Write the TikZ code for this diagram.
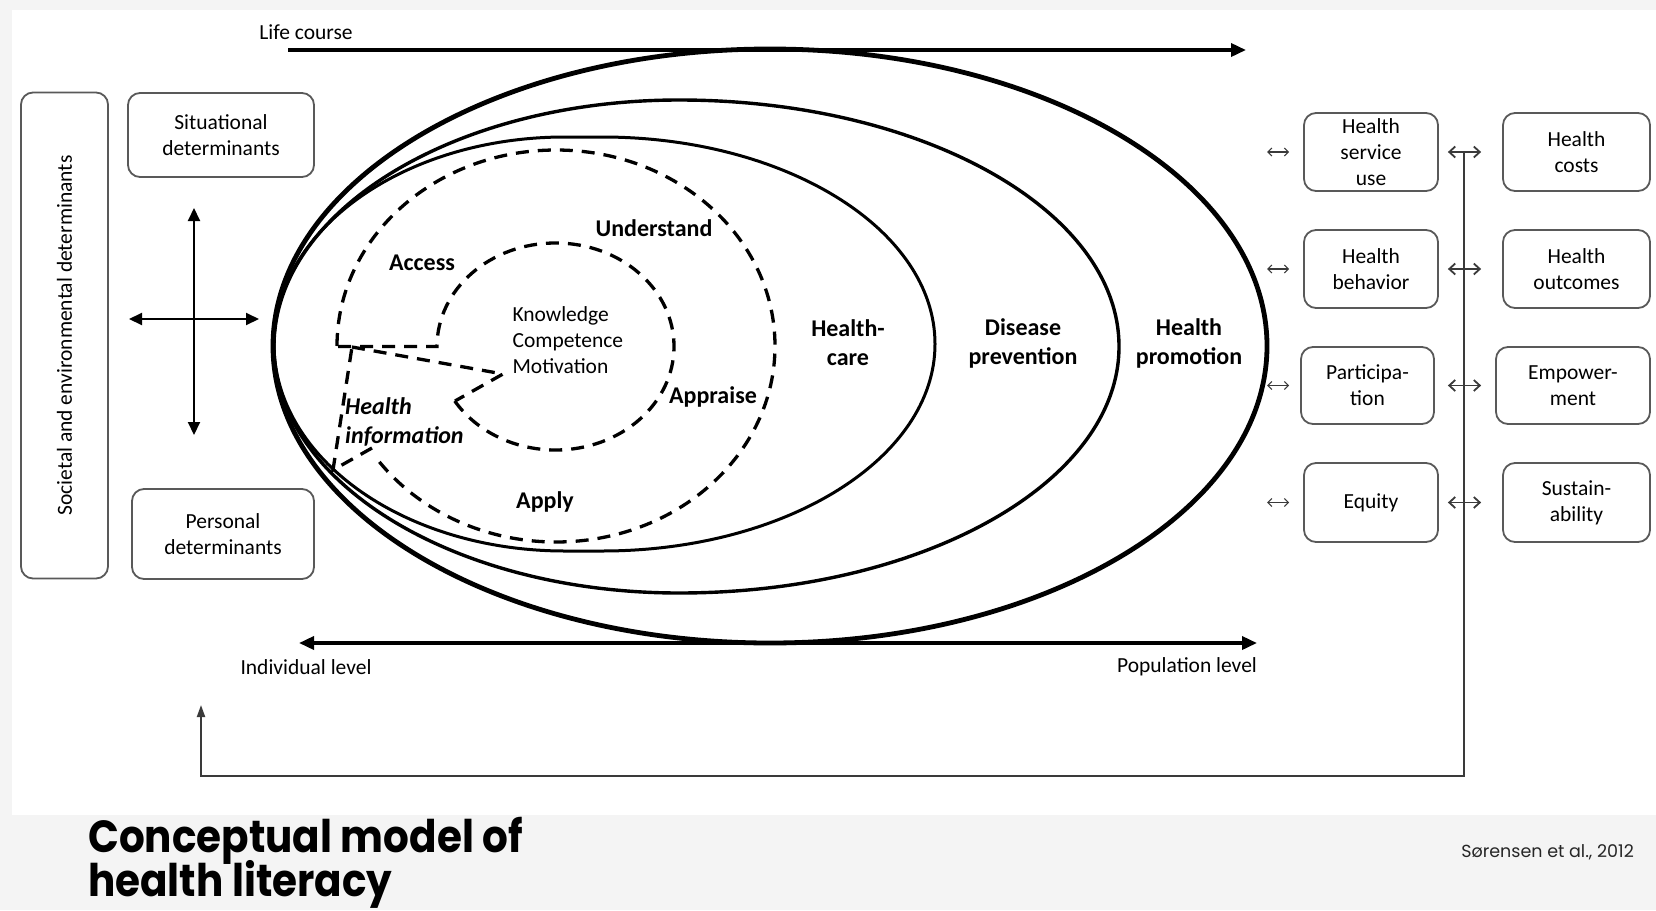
\documentclass[tikz,border=0pt]{standalone}
\usepackage{fontspec}
\setmainfont{Carlito}
\newfontfamily\popp{Poppins}
\usetikzlibrary{arrows.meta}
\definecolor{bandgray}{HTML}{F4F4F4}
\definecolor{boxgray}{HTML}{595959}
\definecolor{linegray}{HTML}{3A3A3A}
\begin{document}
\begin{tikzpicture}[x=1pt,y=-1pt,
  box/.style={draw=boxgray, line width=1.8pt, rounded corners=12pt, fill=white, align=center,
    font=\fontsize{21.5}{26}\selectfont, inner sep=0pt},
  lbl/.style={font=\fontsize{21.5}{26}\selectfont, align=center},
  blbl/.style={font=\fontsize{24}{29}\selectfont\bfseries, align=center},
  dsh/.style={line width=3.3pt, dash pattern=on 13pt off 9pt},
  bigtip/.style={line width=3.5pt},
  crossarr/.style={line width=2pt, {Triangle[length=13pt,width=12pt]}-{Triangle[length=13pt,width=12pt]}},
  midarr/.style={line width=1.8pt, draw=linegray, {Straight Barb[length=6pt,width=11pt]}-{Straight Barb[length=6pt,width=11pt]}},
  smallarr/.style={line width=1.1pt, draw=linegray, {Straight Barb[length=4pt,width=8pt]}-{Straight Barb[length=4pt,width=8pt]}},
  fbline/.style={line width=2pt, draw=linegray, -{Triangle[length=12pt,width=8pt]}},
  titlefont/.style={anchor=base west, inner sep=0pt, font=\popp\bfseries\fontsize{45}{46}\selectfont}
]
\useasboundingbox (0,0) rectangle (1656,910);
\fill[bandgray] (0,0) rectangle (1656,910);
\fill[white] (12,10) rectangle (1656,815);

% solid ellipses
\draw[line width=4.8pt] (770,346) ellipse[x radius=497pt, y radius=297pt];
\draw[line width=3.4pt] (679,100) arc[start angle=90,end angle=-90,x radius=440pt,y radius=246.5pt]
   arc[start angle=270,end angle=90,x radius=405pt,y radius=246.5pt] -- cycle;
\draw[line width=3pt] (565,137) -- (602,137) arc[start angle=90,end angle=-90,x radius=333pt,y radius=207pt]
   -- (565,551) arc[start angle=270,end angle=90,x radius=291pt,y radius=207pt] -- cycle;

% dashed shapes
\draw[dsh] (337,346) arc[start angle=180,end angle=-146,x radius=219pt,y radius=196pt];
\draw[dsh] (338,346.5) -- (437,346.5) arc[start angle=180,end angle=-149,x radius=118.5pt,y radius=103.5pt];
\draw[dsh] (352,347) -- (503,374) -- (455,401);
\draw[dsh] (372,448) -- (333,470) -- (352,347);

% inner labels
\node[blbl] (access) at (422,263) {Access};
\node[blbl] (understand) at (654,228) {Understand};
\node[blbl] (appraise) at (713,397) {Appraise};
\node[blbl] (apply) at (545,502) {Apply};
\node[blbl, font=\fontsize{24}{29}\selectfont\bfseries\itshape, inner sep=1pt, align=left, anchor=west] (hinfo) at (344,421.5) {Health\\information};
\node[lbl, align=left, anchor=west] (kcm) at (509,340) {Knowledge\\Competence\\Motivation};
\node[blbl] (hcare) at (848,342.5) {Health-\\care};
\node[blbl] (dprev) at (1023,343) {Disease\\prevention};
\node[blbl] (hprom) at (1189,343) {Health\\promotion};

% life course and level axes
\node[lbl] (life) at (306,32) {Life course};
\coordinate (lcs) at (288,50);
\coordinate (lce) at (1246,50);
\draw[bigtip, -{Triangle[length=15pt,width=13pt]}] (lcs) -- (lce);
\coordinate (lvl) at (299,643);
\coordinate (lvr) at (1257,643);
\draw[bigtip, {Triangle[length=15pt,width=13pt]}-{Triangle[length=15pt,width=13pt]}] (lvl) -- (lvr);
\node[lbl] (indiv) at (306,667) {Individual level};
\node[lbl] (popu) at (1187,667) {Population level};

% left boxes
\node[box, minimum width=87pt, minimum height=486pt] (soc) at (64.5,335.5) {};
\node[lbl, rotate=90] (soctxt) at (soc.center) {Societal and environmental determinants};
\node[box, minimum width=186pt, minimum height=84pt] (sit) at (221,135) {Situational\\determinants};
\node[box, minimum width=182pt, minimum height=90pt] (per) at (223,534) {Personal\\determinants};
\coordinate (vt) at (194,208);
\coordinate (vb) at (194,435);
\coordinate (hl) at (129,319);
\coordinate (hr) at (259,319);
\draw[crossarr] (vt) -- (vb);
\draw[crossarr] (hl) -- (hr);

% feedback line
\coordinate (fbtop) at (1464,152);
\coordinate (fbr) at (1464,776);
\coordinate (fbl) at (201,776);
\coordinate (fbend) at (201,705);
\draw[fbline] (fbtop) -- (fbr) -- (fbl) -- (fbend);

% right boxes
\node[box, minimum width=134pt, minimum height=78pt] (hsu) at (1371,152) {Health\\service\\use};
\node[box, minimum width=134pt, minimum height=78pt] (hb) at (1371,269) {Health\\behavior};
\node[box, minimum width=133pt, minimum height=77pt] (par) at (1367.5,385.5) {Participa-\\tion};
\node[box, minimum width=134pt, minimum height=79pt] (eq) at (1371,502.5) {Equity};
\node[box, minimum width=147pt, minimum height=78pt] (hc) at (1576.5,152) {Health\\costs};
\node[box, minimum width=147pt, minimum height=78pt] (ho) at (1576.5,269) {Health\\outcomes};
\node[box, minimum width=154pt, minimum height=77pt] (emp) at (1573,385.5) {Empower-\\ment};
\node[box, minimum width=147pt, minimum height=79pt] (sus) at (1576.5,502.5) {Sustain-\\ability};

\draw[midarr] ([xshift=9pt]hsu.east) -- ([xshift=-21pt]hc.west);
\draw[midarr] ([xshift=9pt]hb.east) -- ([xshift=-21pt]ho.west);
\draw[midarr] ([xshift=13pt]par.east) -- ([xshift=-14pt]emp.west);
\draw[midarr] ([xshift=9pt]eq.east) -- ([xshift=-21pt]sus.west);

\draw[smallarr] ([xshift=-36pt]hsu.west) -- ([xshift=-14pt]hsu.west);
\draw[smallarr] ([xshift=-36pt]hb.west) -- ([xshift=-14pt]hb.west);
\draw[smallarr] ([xshift=-33pt]par.west) -- ([xshift=-11pt]par.west);
\draw[smallarr] ([xshift=-36pt]eq.west) -- ([xshift=-14pt]eq.west);

% title band
\node[titlefont] (t1) at (88,852) {\scalebox{0.9}[1]{Conceptual model of}};
\node[titlefont] (t2) at (88,896) {\scalebox{0.9}[1]{health literacy}};
\node[anchor=base east, inner sep=0pt, font=\popp\fontsize{17.5}{20}\selectfont, text=black!85] (cite) at (1634,857) {Sørensen et al., 2012};
\end{tikzpicture}
\end{document}
